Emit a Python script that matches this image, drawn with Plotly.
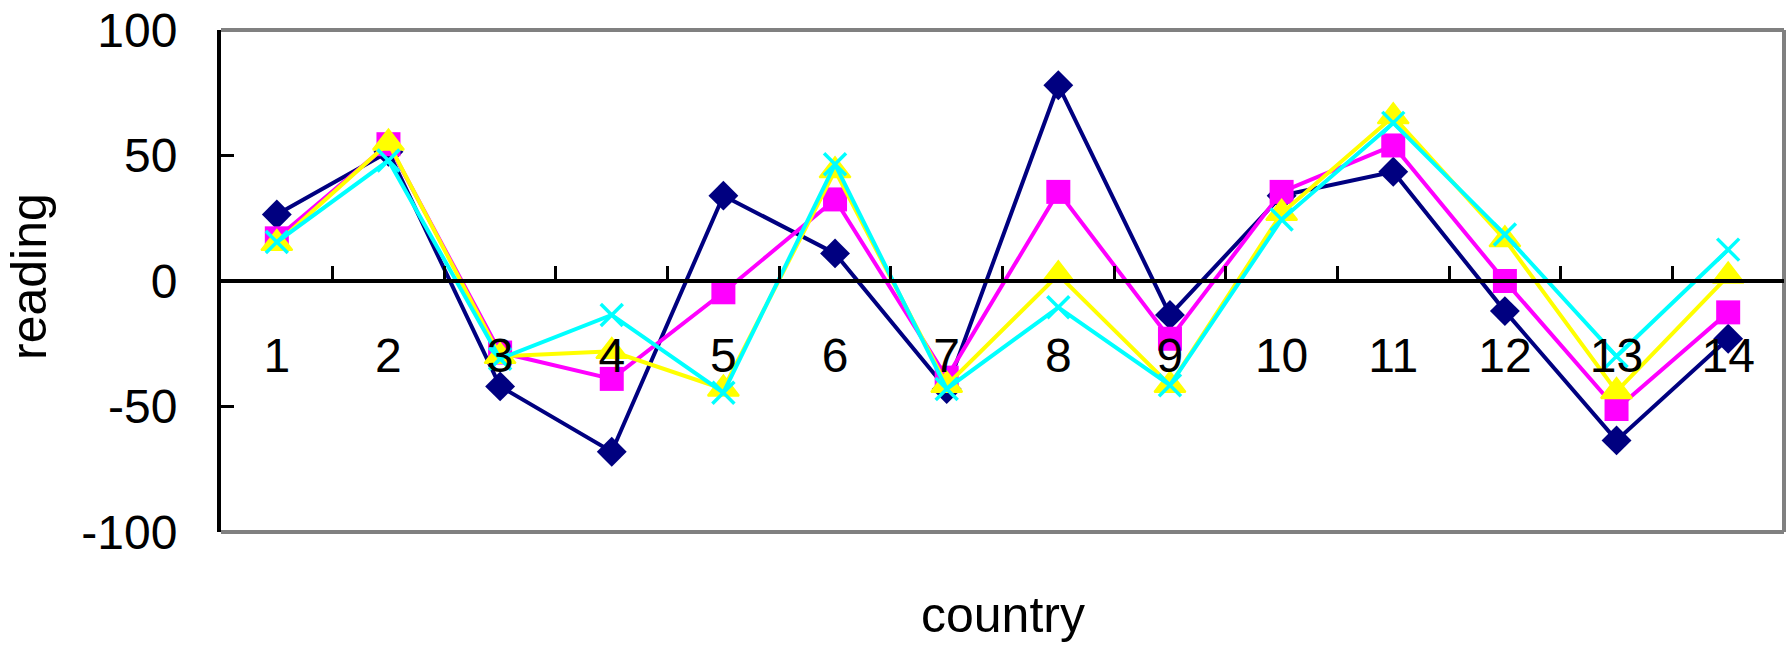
import plotly.graph_objects as go

# Countries on the category axis
countries = [str(i) for i in range(1, 15)]

# Readings per series
series_a = [26.5, 51.5, -42, -68, 34, 11, -43, 78, -13.5, 34, 43.5, -12, -63.5, -23]
series_b = [17, 54.5, -28.5, -39, -4.5, 32.5, -38.5, 35.5, -23, 35.5, 54, 0, -51, -12.5]
series_c = [15, 55, -30, -28, -43, 44, -41.5, 2.5, -41.5, 27, 65.5, 16.5, -44, 2]
series_d = [15.5, 48, -31, -13.5, -44.5, 46.5, -43, -10.5, -41.5, 24.5, 63, 18.5, -30, 12.5]

# Value axis ticks
y_tick_vals = [-100, -50, 0, 50, 100]
y_tick_text = ["-100", "-50", "0", "50", "100"]

TICK_FONT = dict(family="Liberation Sans, Arial, sans-serif", size=48, color="black")
TITLE_FONT = dict(family="Liberation Sans, Arial, sans-serif", size=50, color="black")

fig = go.Figure()

styles = [
    ("A", series_a, "#000080", dict(symbol="diamond", size=23, color="#000080")),
    ("B", series_b, "#FF00FF", dict(symbol="square", size=24, color="#FF00FF")),
    ("C", series_c, "#FFFF00", dict(symbol="triangle-up", size=27, color="#FFFF00",
                                    line=dict(color="#FFFF00", width=2))),
    ("D", series_d, "#00FFFF", dict(symbol="x-thin", size=22, color="#00FFFF",
                                    line=dict(color="#00FFFF", width=3.5))),
]

for name, vals, col, mk in styles:
    fig.add_trace(go.Scatter(
        x=countries, y=vals, name=name, mode="lines+markers",
        line=dict(color=col, width=4), marker=mk, showlegend=False,
        cliponaxis=False,
    ))

fig.update_xaxes(
    type="category", categoryorder="array", categoryarray=countries,
    range=[-0.5, 13.5], anchor="free", position=0.5,
    showline=True, linecolor="black", linewidth=4,
    ticks="inside", tickson="boundaries", ticklen=13, tickwidth=3, tickcolor="black",
    showgrid=False, zeroline=False, tickfont=TICK_FONT, ticklabelstandoff=31,
)
fig.update_yaxes(
    range=[-100, 100], tickvals=y_tick_vals, ticktext=y_tick_text,
    showline=True, linecolor="black", linewidth=4,
    ticks="inside", ticklen=13, tickwidth=3, tickcolor="black",
    showgrid=False, zeroline=False, tickfont=TICK_FONT, ticklabelstandoff=30,
)

# Grey frame on the top, right and bottom sides of the plot area
frame = dict(type="line", xref="paper", yref="paper", layer="below",
             line=dict(color="#808080", width=4))
fig.add_shape(x0=0, x1=1, y0=1, y1=1, **frame)
fig.add_shape(x0=1, x1=1, y0=0, y1=1, **frame)
fig.add_shape(x0=0, x1=1, y0=0, y1=0, **frame)

fig.add_annotation(text="reading", xref="paper", yref="paper", x=0, y=0.5,
                   xshift=-192, yshift=4, textangle=-90, showarrow=False,
                   xanchor="center", yanchor="middle", font=TITLE_FONT)
fig.add_annotation(text="country", xref="paper", yref="paper", x=0.5, y=0,
                   yshift=-83, showarrow=False,
                   xanchor="center", yanchor="middle", font=TITLE_FONT)

fig.update_layout(
    width=1788, height=646,
    margin=dict(l=221, r=4, t=27, b=114),
    paper_bgcolor="white", plot_bgcolor="white",
)

fig.write_html("out.html")
